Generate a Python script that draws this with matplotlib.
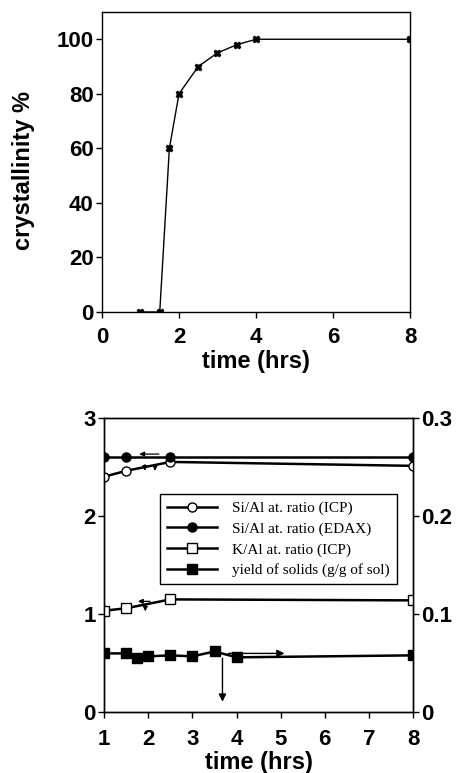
import matplotlib
matplotlib.use("Agg")
import matplotlib.pyplot as plt

# ---- data: top panel ----
t_cryst = [1.0, 1.5, 1.75, 2.0, 2.5, 3.0, 3.5, 4.0, 8.0]
crystallinity = [0, 0, 60, 80, 90, 95, 98, 100, 100]

# ---- data: bottom panel ----
t_ratio = [1.0, 1.5, 2.5, 8.0]
si_al_icp = [2.40, 2.46, 2.55, 2.51]
si_al_edax = [2.60, 2.60, 2.60, 2.60]
k_al_icp = [1.035, 1.06, 1.15, 1.14]
t_yield = [1.0, 1.5, 1.75, 2.0, 2.5, 3.0, 3.5, 4.0, 8.0]
yield_solids = [0.060, 0.060, 0.055, 0.057, 0.058, 0.057, 0.062, 0.056, 0.058]

top_xticks = [0, 2, 4, 6, 8]
top_yticks = [0, 20, 40, 60, 80, 100]
bot_xticks = [1, 2, 3, 4, 5, 6, 7, 8]
bot_yticks_left = [0, 1, 2, 3]
bot_yticks_right = [0, 0.1, 0.2, 0.3]
bot_right_labels = ["0", "0.1", "0.2", "0.3"]
legend_labels = ["Si/Al at. ratio (ICP)", "Si/Al at. ratio (EDAX)",
                 "K/Al at. ratio (ICP)", "yield of solids (g/g of sol)"]

plt.rcParams['font.family'] = ['Liberation Sans', 'DejaVu Sans']
plt.rcParams['font.weight'] = 'bold'

TICK_FS = 16
LABEL_FS = 17

fig = plt.figure(figsize=(4.58, 7.73), dpi=100)

# ---------------- top panel ----------------
ax1 = fig.add_axes([0.2227, 0.5964, 0.6725, 0.3881])
ax1.plot(t_cryst, crystallinity, color='black', lw=1.0, marker='X',
         ms=4.5, mfc='black', mec='black')
ax1.set_xlim(0, 8)
ax1.set_ylim(0, 110)
ax1.set_xticks(top_xticks)
ax1.set_yticks(top_yticks)
ax1.tick_params(direction='out', length=4, width=1.0, labelsize=TICK_FS)
ax1.tick_params(axis='x', pad=7)
ax1.tick_params(axis='y', pad=2)
for lab in ax1.get_xticklabels() + ax1.get_yticklabels():
    lab.set_fontweight('bold')
ax1.set_xlabel("time (hrs)", fontsize=LABEL_FS, fontweight='bold', labelpad=1.5)
ax1.set_ylabel("crystallinity %", fontsize=LABEL_FS, fontweight='bold')
ax1.yaxis.set_label_coords(-0.216, 0.47)
for s in ax1.spines.values():
    s.set_linewidth(1.0)

# ---------------- bottom panel ----------------
ax2 = fig.add_axes([0.2277, 0.0785, 0.674, 0.3811])
ax3 = ax2.twinx()

ms = 6.5
h1, = ax2.plot(t_ratio, si_al_icp, color='black', lw=1.8, marker='o', ms=ms,
               mfc='white', mec='black', mew=1.0, zorder=3)
h2, = ax2.plot(t_ratio, si_al_edax, color='black', lw=1.8, marker='o', ms=ms,
               mfc='black', mec='black', zorder=3)
h3, = ax2.plot(t_ratio, k_al_icp, color='black', lw=1.8, marker='s', ms=ms,
               mfc='white', mec='black', mew=1.0, zorder=3)
h4, = ax3.plot(t_yield, yield_solids, color='black', lw=1.8, marker='s', ms=ms,
               mfc='black', mec='black', zorder=3)

ax2.set_xlim(1, 8)
ax2.set_ylim(0, 3)
ax3.set_ylim(0, 0.3)
ax2.set_xticks(bot_xticks)
ax2.set_yticks(bot_yticks_left)
ax3.set_yticks(bot_yticks_right)
ax3.set_yticklabels(bot_right_labels)
ax2.tick_params(direction='out', length=4, width=1.0, labelsize=TICK_FS, pad=2)
ax2.tick_params(axis='x', pad=8)
ax3.tick_params(direction='out', length=4, width=1.0, labelsize=TICK_FS, pad=2)
for lab in ax2.get_xticklabels() + ax2.get_yticklabels() + ax3.get_yticklabels():
    lab.set_fontweight('bold')
ax2.set_xlabel("time (hrs)", fontsize=LABEL_FS, fontweight='bold', labelpad=0.5)
for a in (ax2, ax3):
    for s in a.spines.values():
        s.set_linewidth(1.0)

# axis-indicator arrows
arr = dict(arrowstyle='-|>', color='black', lw=0.9, mutation_scale=7)
ax2.annotate("", xy=(1.73, 2.63), xytext=(2.3, 2.63), arrowprops=arr)
ax2.annotate("", xy=(1.92, 2.43), xytext=(1.92, 2.55), arrowprops=arr)
ax2.annotate("", xy=(2.15, 2.43), xytext=(2.15, 2.55), arrowprops=arr)
ax2.annotate("", xy=(1.7, 1.13), xytext=(2.1, 1.13), arrowprops=arr)
ax2.annotate("", xy=(1.93, 1.0), xytext=(1.93, 1.12), arrowprops=arr)
arr2 = dict(arrowstyle='-|>', color='black', lw=1.0, mutation_scale=11)
ax3.annotate("", xy=(5.15, 0.060), xytext=(3.75, 0.060), arrowprops=arr2)
ax3.annotate("", xy=(3.68, 0.008), xytext=(3.68, 0.058), arrowprops=arr2)

leg = ax2.legend([h1, h2, h3, h4], legend_labels, loc='upper left',
                 bbox_to_anchor=(0.18, 0.74), frameon=True, fancybox=False,
                 edgecolor='black', handlelength=3.3, handletextpad=1.0,
                 labelspacing=0.45, borderpad=0.45, borderaxespad=0,
                 prop={'family': 'Liberation Serif', 'size': 11,
                       'weight': 'normal'})
leg.get_frame().set_linewidth(1.0)
leg.get_frame().set_alpha(1)

fig.savefig("out.png", dpi=100)
